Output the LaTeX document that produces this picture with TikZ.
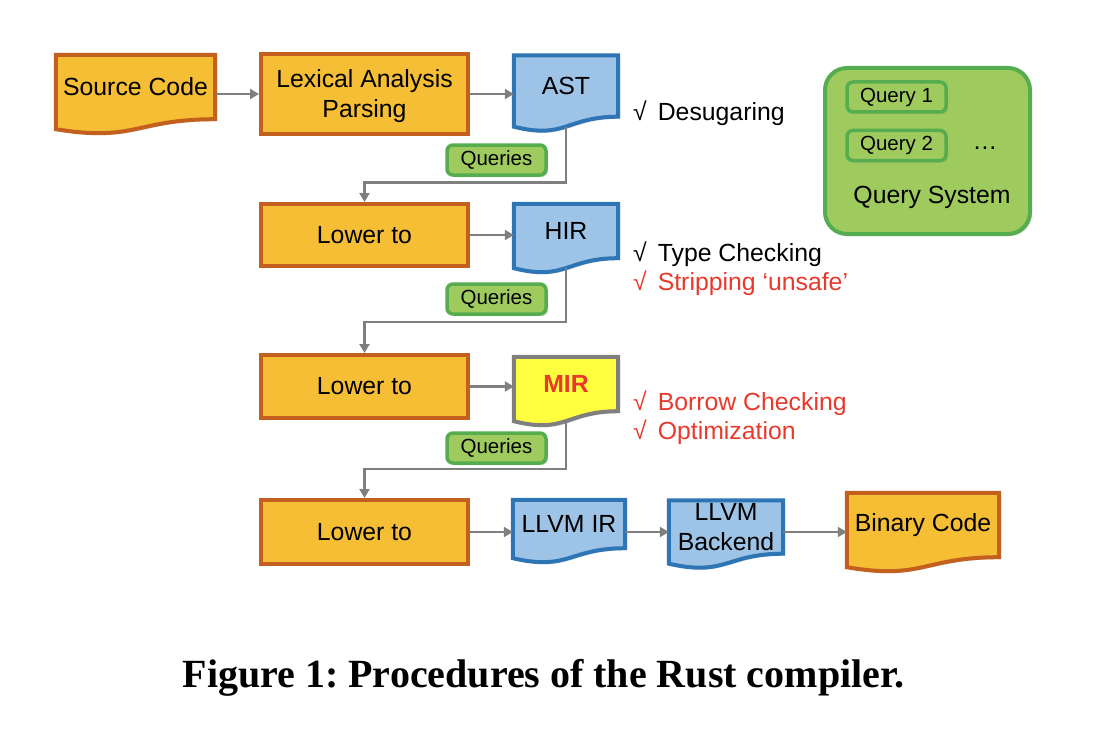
\documentclass[tikz,border=0pt]{standalone}
\usepackage{fontspec}
\setmainfont{Liberation Sans}
\newfontfamily\capfont{Liberation Serif}
\usetikzlibrary{arrows.meta,backgrounds,shadows}
\definecolor{boxorange}{HTML}{F6BE35}
\definecolor{lineorange}{HTML}{C4601E}
\definecolor{boxblue}{HTML}{9DC3E6}
\definecolor{lineblue}{HTML}{2E75B6}
\definecolor{boxyellow}{HTML}{FFFF40}
\definecolor{boxgreen}{HTML}{9FCB5E}
\definecolor{linegreen}{HTML}{55AD4F}
\definecolor{linegray}{HTML}{7F7F7F}
\definecolor{textred}{HTML}{E8392B}
\tikzset{>/.tip={Triangle[length=9pt,width=10pt]},
  boxshadow/.style={drop shadow={opacity=0.3,shadow xshift=2pt,shadow yshift=-2pt}},
  stage/.style={draw=lineorange,fill=boxorange,line width=4pt,boxshadow,minimum width=207pt,inner sep=0pt,align=center},
  doctext/.style={inner sep=0pt,align=center},
  query/.style={draw=linegreen,fill=boxgreen,line width=3.5pt,rounded corners=6pt,boxshadow,minimum width=99pt,minimum height=30pt,inner sep=0pt,font=\fontsize{20.5}{24}\selectfont},
  flow/.style={draw=linegray,line width=2.5pt,->},
  note/.style={anchor=west,inner sep=0pt}}
\newcommand{\docpath}[1]{(#1.north west) -- (#1.north east) -- (#1.south east)
  .. controls (#1.south) and ([yshift=-23pt]#1.south) .. ([yshift=-10pt]#1.south west) -- cycle}

\begin{document}
\begin{tikzpicture}[x=1pt,y=-1pt,font=\fontsize{24.8}{30}\selectfont]
\useasboundingbox (0,0) rectangle (1097,733);
% pipeline
\node[doctext,minimum width=159pt,minimum height=64pt] (src) at (135.5,87) {Source Code};
\node[stage,minimum height=80pt,text depth=0pt] (lex) at (364.5,94) {Lexical Analysis\\Parsing};
\node[doctext,minimum width=104pt,minimum height=61pt] (ast) at (566,86) {AST};
\node[stage,minimum height=62pt] (low1) at (364.5,235) {Lower to};
\node[doctext,minimum width=104pt,minimum height=54pt] (hir) at (566,231) {HIR};
\node[stage,minimum height=63pt] (low2) at (364.5,386.5) {Lower to};
\node[doctext,minimum width=104pt,minimum height=54pt,text=textred,font=\fontsize{24.8}{30}\selectfont\bfseries] (mir) at (566,384) {MIR};
\node[stage,minimum height=64pt] (low3) at (364.5,532) {Lower to};
\node[doctext,minimum width=112pt,minimum height=48pt] (llir) at (569,524) {LLVM IR};
\node[doctext,minimum width=114pt,minimum height=53pt] (llbe) at (726,527) {LLVM\\Backend};
\node[doctext,minimum width=152pt,minimum height=64pt] (bin) at (923,525) {Binary Code};

\node[query] (que1) at (496.5,160) {Queries};
\node[query] (que2) at (496.5,299) {Queries};
\node[query] (que3) at (496.5,448) {Queries};

% query system
\node[draw=linegreen,fill=boxgreen,line width=4pt,rounded corners=22pt,boxshadow,minimum width=205pt,minimum height=166pt] (qsys) at (927.5,151) {};
\node[query] (qry1) at (896.5,97) {Query 1};
\node[query] (qry2) at (896.5,145.5) {Query 2};
\node (dots) at (985,148) {…};
\node (qlab) at (932,197) {Query System};

% checks
\node[note] (chk1) at (633,113) {√\hspace{11pt}Desugaring};
\node[note] (chk2) at (633,254) {√\hspace{11pt}Type Checking};
\node[note,text=textred] (chk3) at (633,283) {√\hspace{11pt}Stripping ‘unsafe’};
\node[note,text=textred] (chk4) at (633,403) {√\hspace{11pt}Borrow Checking};
\node[note,text=textred] (chk5) at (633,432) {√\hspace{11pt}Optimization};

\begin{scope}[on background layer]
\draw[draw=lineorange,fill=boxorange,line width=4pt,boxshadow] \docpath{src};
\draw[draw=lineblue,fill=boxblue,line width=4pt,boxshadow] \docpath{ast};
\draw[draw=lineblue,fill=boxblue,line width=4pt,boxshadow] \docpath{hir};
\draw[draw=linegray,fill=boxyellow,line width=4pt,boxshadow] \docpath{mir};
\draw[draw=lineblue,fill=boxblue,line width=4pt,boxshadow] \docpath{llir};
\draw[draw=lineblue,fill=boxblue,line width=4pt,boxshadow] \docpath{llbe};
\draw[draw=lineorange,fill=boxorange,line width=4pt,boxshadow] \docpath{bin};
\end{scope}

\draw[flow] (src.east |- lex) -- (lex.west);
\draw[flow] (lex.east) -- (lex.east -| ast.west);
\draw[flow] ([yshift=-10pt]ast.south) -- ++(0,56) -| (low1.north);
\draw[flow] (low1.east) -- (low1.east -| hir.west);
\draw[flow] ([yshift=-10pt]hir.south) -- ++(0,54) -| (low2.north);
\draw[flow] (low2.east) -- (low2.east -| mir.west);
\draw[flow] ([yshift=-10pt]mir.south) -- ++(0,48) -| (low3.north);
\draw[flow] (low3.east) -- (low3.east -| llir.west);
\draw[flow] (llir.east |- low3) -- (llbe.west |- low3);
\draw[flow] (llbe.east |- low3) -- (bin.west |- low3);

\node (cap) at (543.5,678) {\capfont\bfseries\frenchspacing\fontsize{40}{46}\selectfont Figure 1: Procedures of the Rust compiler.};
\end{tikzpicture}
\end{document}
